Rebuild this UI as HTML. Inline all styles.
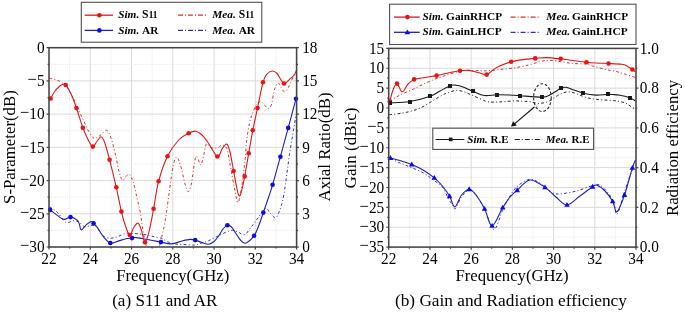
<!DOCTYPE html>
<html><head><meta charset="utf-8"><title>Figure</title>
<style>html,body{margin:0;padding:0;background:#fff;width:685px;height:314px;overflow:hidden}
svg{display:block;font-family:"Liberation Serif", serif;will-change:transform;}
text{fill:#000}</style></head>
<body>
<svg width="685" height="314" viewBox="0 0 685 314" font-family='"Liberation Serif", serif'>
<rect width="685" height="314" fill="#ffffff"/>
<line x1="69.63" y1="47.7" x2="69.63" y2="247" stroke="#e9e9e9" stroke-width="1" stroke-dasharray="1,1"/>
<line x1="90.27" y1="47.7" x2="90.27" y2="247" stroke="#dadada" stroke-width="1"/>
<line x1="110.9" y1="47.7" x2="110.9" y2="247" stroke="#e9e9e9" stroke-width="1" stroke-dasharray="1,1"/>
<line x1="131.53" y1="47.7" x2="131.53" y2="247" stroke="#dadada" stroke-width="1"/>
<line x1="152.17" y1="47.7" x2="152.17" y2="247" stroke="#e9e9e9" stroke-width="1" stroke-dasharray="1,1"/>
<line x1="172.8" y1="47.7" x2="172.8" y2="247" stroke="#dadada" stroke-width="1"/>
<line x1="193.43" y1="47.7" x2="193.43" y2="247" stroke="#e9e9e9" stroke-width="1" stroke-dasharray="1,1"/>
<line x1="214.07" y1="47.7" x2="214.07" y2="247" stroke="#dadada" stroke-width="1"/>
<line x1="234.7" y1="47.7" x2="234.7" y2="247" stroke="#e9e9e9" stroke-width="1" stroke-dasharray="1,1"/>
<line x1="255.33" y1="47.7" x2="255.33" y2="247" stroke="#dadada" stroke-width="1"/>
<line x1="275.97" y1="47.7" x2="275.97" y2="247" stroke="#e9e9e9" stroke-width="1" stroke-dasharray="1,1"/>
<line x1="49" y1="64.31" x2="296.6" y2="64.31" stroke="#e9e9e9" stroke-width="1" stroke-dasharray="1,1"/>
<line x1="49" y1="80.92" x2="296.6" y2="80.92" stroke="#dadada" stroke-width="1"/>
<line x1="49" y1="97.53" x2="296.6" y2="97.53" stroke="#e9e9e9" stroke-width="1" stroke-dasharray="1,1"/>
<line x1="49" y1="114.13" x2="296.6" y2="114.13" stroke="#dadada" stroke-width="1"/>
<line x1="49" y1="130.74" x2="296.6" y2="130.74" stroke="#e9e9e9" stroke-width="1" stroke-dasharray="1,1"/>
<line x1="49" y1="147.35" x2="296.6" y2="147.35" stroke="#dadada" stroke-width="1"/>
<line x1="49" y1="163.96" x2="296.6" y2="163.96" stroke="#e9e9e9" stroke-width="1" stroke-dasharray="1,1"/>
<line x1="49" y1="180.57" x2="296.6" y2="180.57" stroke="#dadada" stroke-width="1"/>
<line x1="49" y1="197.18" x2="296.6" y2="197.18" stroke="#e9e9e9" stroke-width="1" stroke-dasharray="1,1"/>
<line x1="49" y1="213.78" x2="296.6" y2="213.78" stroke="#dadada" stroke-width="1"/>
<line x1="49" y1="230.39" x2="296.6" y2="230.39" stroke="#e9e9e9" stroke-width="1" stroke-dasharray="1,1"/>
<line x1="409.31" y1="48.4" x2="409.31" y2="247.1" stroke="#e9e9e9" stroke-width="1" stroke-dasharray="1,1"/>
<line x1="429.92" y1="48.4" x2="429.92" y2="247.1" stroke="#dadada" stroke-width="1"/>
<line x1="450.52" y1="48.4" x2="450.52" y2="247.1" stroke="#e9e9e9" stroke-width="1" stroke-dasharray="1,1"/>
<line x1="471.13" y1="48.4" x2="471.13" y2="247.1" stroke="#dadada" stroke-width="1"/>
<line x1="491.74" y1="48.4" x2="491.74" y2="247.1" stroke="#e9e9e9" stroke-width="1" stroke-dasharray="1,1"/>
<line x1="512.35" y1="48.4" x2="512.35" y2="247.1" stroke="#dadada" stroke-width="1"/>
<line x1="532.96" y1="48.4" x2="532.96" y2="247.1" stroke="#e9e9e9" stroke-width="1" stroke-dasharray="1,1"/>
<line x1="553.57" y1="48.4" x2="553.57" y2="247.1" stroke="#dadada" stroke-width="1"/>
<line x1="574.17" y1="48.4" x2="574.17" y2="247.1" stroke="#e9e9e9" stroke-width="1" stroke-dasharray="1,1"/>
<line x1="594.78" y1="48.4" x2="594.78" y2="247.1" stroke="#dadada" stroke-width="1"/>
<line x1="615.39" y1="48.4" x2="615.39" y2="247.1" stroke="#e9e9e9" stroke-width="1" stroke-dasharray="1,1"/>
<line x1="388.7" y1="58.33" x2="636" y2="58.33" stroke="#e9e9e9" stroke-width="1" stroke-dasharray="1,1"/>
<line x1="388.7" y1="68.27" x2="636" y2="68.27" stroke="#dadada" stroke-width="1"/>
<line x1="388.7" y1="78.2" x2="636" y2="78.2" stroke="#e9e9e9" stroke-width="1" stroke-dasharray="1,1"/>
<line x1="388.7" y1="88.14" x2="636" y2="88.14" stroke="#dadada" stroke-width="1"/>
<line x1="388.7" y1="98.07" x2="636" y2="98.07" stroke="#e9e9e9" stroke-width="1" stroke-dasharray="1,1"/>
<line x1="388.7" y1="108.01" x2="636" y2="108.01" stroke="#dadada" stroke-width="1"/>
<line x1="388.7" y1="117.94" x2="636" y2="117.94" stroke="#e9e9e9" stroke-width="1" stroke-dasharray="1,1"/>
<line x1="388.7" y1="127.88" x2="636" y2="127.88" stroke="#dadada" stroke-width="1"/>
<line x1="388.7" y1="137.81" x2="636" y2="137.81" stroke="#e9e9e9" stroke-width="1" stroke-dasharray="1,1"/>
<line x1="388.7" y1="147.75" x2="636" y2="147.75" stroke="#dadada" stroke-width="1"/>
<line x1="388.7" y1="157.69" x2="636" y2="157.69" stroke="#e9e9e9" stroke-width="1" stroke-dasharray="1,1"/>
<line x1="388.7" y1="167.62" x2="636" y2="167.62" stroke="#dadada" stroke-width="1"/>
<line x1="388.7" y1="177.56" x2="636" y2="177.56" stroke="#e9e9e9" stroke-width="1" stroke-dasharray="1,1"/>
<line x1="388.7" y1="187.49" x2="636" y2="187.49" stroke="#dadada" stroke-width="1"/>
<line x1="388.7" y1="197.43" x2="636" y2="197.43" stroke="#e9e9e9" stroke-width="1" stroke-dasharray="1,1"/>
<line x1="388.7" y1="207.36" x2="636" y2="207.36" stroke="#dadada" stroke-width="1"/>
<line x1="388.7" y1="217.29" x2="636" y2="217.29" stroke="#e9e9e9" stroke-width="1" stroke-dasharray="1,1"/>
<line x1="388.7" y1="227.23" x2="636" y2="227.23" stroke="#dadada" stroke-width="1"/>
<line x1="388.7" y1="237.16" x2="636" y2="237.16" stroke="#e9e9e9" stroke-width="1" stroke-dasharray="1,1"/>
<defs><clipPath id="cl"><rect x="49" y="47.7" width="247.6" height="199.3"/></clipPath><clipPath id="cr"><rect x="388.7" y="48.4" width="247.3" height="198.7"/></clipPath></defs>
<g clip-path="url(#cl)">
<path d="M49.5,206.7 C50.87,207.7 55,210.1 57.7,212.7 C60.4,215.3 63.03,220.97 65.7,222.3 C68.37,223.63 71.43,220.7 73.7,220.7 C75.97,220.7 77.45,221.28 79.3,222.3 C81.15,223.32 82.82,226.27 84.8,226.8 C86.78,227.33 89.33,225.58 91.2,225.5 C93.07,225.42 94.13,224.7 96,226.3 C97.87,227.9 100.28,233.12 102.4,235.1 C104.52,237.08 106.32,237.88 108.7,238.2 C111.08,238.52 113.98,237.78 116.7,237 C119.42,236.22 122.5,234.1 125,233.5 C127.5,232.9 129.2,233.32 131.7,233.4 C134.2,233.48 137.4,233.73 140,234 C142.6,234.27 144.8,234.5 147.3,235 C149.8,235.5 152.6,236.43 155,237 C157.4,237.57 159.65,237.62 161.7,238.4 C163.75,239.18 165.08,240.77 167.3,241.7 C169.52,242.63 172.22,243.53 175,244 C177.78,244.47 180.68,244.33 184,244.5 C187.32,244.67 192.23,245.17 194.9,245 C197.57,244.83 197.78,244.18 200,243.5 C202.22,242.82 204.87,242.32 208.2,240.9 C211.53,239.48 216.17,236.75 220,235 C223.83,233.25 228.2,230.9 231.2,230.4 C234.2,229.9 235.77,231.3 238,232 C240.23,232.7 242.27,235.6 244.6,234.6 C246.93,233.6 249.77,228.77 252,226 C254.23,223.23 255.73,220.93 258,218 C260.27,215.07 263.6,209.23 265.6,208.4 C267.6,207.57 268.4,211.47 270,213 C271.6,214.53 273.7,217.73 275.2,217.6 C276.7,217.47 277.57,215.97 279,212.2 C280.43,208.43 282.05,204.65 283.8,195 C285.55,185.35 287.97,164.63 289.5,154.3 C291.03,143.97 291.88,139.72 293,133 C294.12,126.28 295.67,117.17 296.2,114" stroke="#3030c8" stroke-width="1.0" fill="none" stroke-linejoin="round" stroke-dasharray="2.8,2.3,1,2.3"/>
<path d="M49.3,78.3 C50.25,78.5 53.05,78.88 55,79.5 C56.95,80.12 59.17,80.83 61,82 C62.83,83.17 64.33,84.5 66,86.5 C67.67,88.5 69.33,91.08 71,94 C72.67,96.92 74.5,100.83 76,104 C77.5,107.17 78.67,110.08 80,113 C81.33,115.92 82.58,118.5 84,121.5 C85.42,124.5 86.87,128.22 88.5,131 C90.13,133.78 91.88,137.45 93.8,138.2 C95.72,138.95 97.88,136.82 100,135.5 C102.12,134.18 104.63,129.8 106.5,130.3 C108.37,130.8 109.62,134.05 111.2,138.5 C112.78,142.95 114.7,151.5 116,157 C117.3,162.5 117.93,167.67 119,171.5 C120.07,175.33 121.23,179.17 122.4,180 C123.57,180.83 124.88,177.45 126,176.5 C127.12,175.55 127.85,173.22 129.1,174.3 C130.35,175.38 132.15,178.88 133.5,183 C134.85,187.12 136.05,194 137.2,199 C138.35,204 139.47,207.92 140.4,213 C141.33,218.08 141.87,224.17 142.8,229.5 C143.73,234.83 144.8,241.08 146,245 C147.2,248.92 148.5,251.67 150,253 C151.5,254.33 153.58,253.83 155,253 C156.42,252.17 157.5,250.17 158.5,248 C159.5,245.83 159.87,244.67 161,240 C162.13,235.33 163.9,228.17 165.3,220 C166.7,211.83 168.08,200.08 169.4,191 C170.72,181.92 171.97,171.13 173.2,165.5 C174.43,159.87 175.5,156.95 176.8,157.2 C178.1,157.45 179.63,162.53 181,167 C182.37,171.47 183.8,179.9 185,184 C186.2,188.1 187.12,191.77 188.2,191.6 C189.28,191.43 190.22,188.8 191.5,183 C192.78,177.2 194.37,159.82 195.9,156.8 C197.43,153.78 199.43,165.03 200.7,164.9 C201.97,164.77 202.55,159.52 203.5,156 C204.45,152.48 205.32,145.3 206.4,143.8 C207.48,142.3 208.73,146.3 210,147 C211.27,147.7 212.67,147.9 214,148 C215.33,148.1 216.62,148.1 218,147.6 C219.38,147.1 220.83,144.87 222.3,145 C223.77,145.13 225.68,146.17 226.8,148.4 C227.92,150.63 228.22,154.38 229,158.4 C229.78,162.42 230.5,167.07 231.5,172.5 C232.5,177.93 233.93,186 235,191 C236.07,196 236.9,202.5 237.9,202.5 C238.9,202.5 240.05,196 241,191 C241.95,186 242.9,177.93 243.6,172.5 C244.3,167.07 244.67,163.9 245.2,158.4 C245.73,152.9 246.07,145.47 246.8,139.5 C247.53,133.53 248.62,127.02 249.6,122.6 C250.58,118.18 251.53,116.08 252.7,113 C253.87,109.92 255.22,105.98 256.6,104.1 C257.98,102.22 259.63,101.48 261,101.7 C262.37,101.92 263.53,104.25 264.8,105.4 C266.07,106.55 267.47,108.83 268.6,108.6 C269.73,108.37 270.75,106.67 271.6,104 C272.45,101.33 273.02,95.55 273.7,92.6 C274.38,89.65 274.95,87.92 275.7,86.3 C276.45,84.68 277.32,82.73 278.2,82.9 C279.08,83.07 280,85.82 281,87.3 C282,88.78 283.2,91.43 284.2,91.8 C285.2,92.17 286.03,90.8 287,89.5 C287.97,88.2 288.83,86.45 290,84 C291.17,81.55 292.92,76.8 294,74.8 C295.08,72.8 296.08,72.47 296.5,72" stroke="#d83030" stroke-width="1.0" fill="none" stroke-linejoin="round" stroke-dasharray="2.8,2.3,1,2.3"/>
<path d="M50.1,209.9 C51.25,210.77 54.72,213.52 57,215.1 C59.28,216.68 61.55,219.07 63.8,219.4 C66.05,219.73 68.32,217.02 70.5,217.1 C72.68,217.18 75.43,218.77 76.9,219.9 C78.37,221.03 78.57,222.22 79.3,223.9 C80.03,225.58 80.12,229.87 81.3,230 C82.48,230.13 84.75,226.12 86.4,224.7 C88.05,223.28 90,221.72 91.2,221.5 C92.4,221.28 92.53,222.33 93.6,223.4 C94.67,224.47 95.87,225.55 97.6,227.9 C99.33,230.25 101.88,234.98 104,237.5 C106.12,240.02 107.92,242.4 110.3,243 C112.68,243.6 115.85,241.77 118.3,241.1 C120.75,240.43 122.72,239.5 125,239 C127.28,238.5 130.15,238.33 132,238.1 C133.85,237.87 133.1,237.28 136.1,237.6 C139.1,237.92 145.87,239.25 150,240 C154.13,240.75 157.32,241.45 160.9,242.1 C164.48,242.75 167.98,244.08 171.5,243.9 C175.02,243.72 178.92,241.75 182,241 C185.08,240.25 187.8,239.55 190,239.4 C192.2,239.25 193.2,239.58 195.2,240.1 C197.2,240.62 199.78,241.82 202,242.5 C204.22,243.18 206.5,244.37 208.5,244.2 C210.5,244.03 212.25,242.95 214,241.5 C215.75,240.05 217.5,237.58 219,235.5 C220.5,233.42 221.6,230.72 223,229 C224.4,227.28 225.98,225.53 227.4,225.2 C228.82,224.87 230.23,225.87 231.5,227 C232.77,228.13 233.58,229.92 235,232 C236.42,234.08 238.25,237.63 240,239.5 C241.75,241.37 243.15,243.83 245.5,243.2 C247.85,242.57 251.85,238.73 254.1,235.7 C256.35,232.67 257.47,228.85 259,225 C260.53,221.15 261.72,217.18 263.3,212.6 C264.88,208.02 266.95,202.13 268.5,197.5 C270.05,192.87 270.62,191.6 272.6,184.8 C274.58,178 277.8,166.18 280.4,156.7 C283,147.22 285.6,137.55 288.2,127.9 C290.8,118.25 294.7,103.65 296,98.8" stroke="#2020b8" stroke-width="1.1" fill="none" stroke-linejoin="round"/>
<path d="M50.6,98.5 C51.33,97.25 53.52,93.05 55,91 C56.48,88.95 58.12,87.32 59.5,86.2 C60.88,85.08 62.27,84.52 63.3,84.3 C64.33,84.08 64.43,83.37 65.7,84.9 C66.97,86.43 69.12,89.65 70.9,93.5 C72.68,97.35 74.4,102.3 76.4,108 C78.4,113.7 80.97,122.45 82.9,127.7 C84.83,132.95 86.35,136.35 88,139.5 C89.65,142.65 91.33,146.27 92.8,146.6 C94.27,146.93 95.43,143.13 96.8,141.5 C98.17,139.87 99.72,136.72 101,136.8 C102.28,136.88 103.07,138.17 104.5,142 C105.93,145.83 107.63,152.25 109.6,159.8 C111.57,167.35 114.33,178.67 116.3,187.3 C118.27,195.93 119.87,205.15 121.4,211.6 C122.93,218.05 124.12,222.1 125.5,226 C126.88,229.9 128.28,234.83 129.7,235 C131.12,235.17 132.58,228.97 134,227 C135.42,225.03 136.95,222.62 138.2,223.2 C139.45,223.78 140.37,227.32 141.5,230.5 C142.63,233.68 143.75,242.1 145,242.3 C146.25,242.5 147.57,237.28 149,231.7 C150.43,226.12 152,217.2 153.6,208.8 C155.2,200.4 156.28,190.07 158.6,181.3 C160.92,172.53 164.15,163.08 167.5,156.2 C170.85,149.32 175.17,143.83 178.7,140 C182.23,136.17 185.85,134.67 188.7,133.2 C191.55,131.73 193.58,130.9 195.8,131.2 C198.02,131.5 199.97,133.12 202,135 C204.03,136.88 205.45,138.92 208,142.5 C210.55,146.08 214.92,155.5 217.3,156.5 C219.68,157.5 220.72,150.58 222.3,148.5 C223.88,146.42 225.52,143.42 226.8,144 C228.08,144.58 228.87,147.5 230,152 C231.13,156.5 232.52,165.25 233.6,171 C234.68,176.75 235.73,182.67 236.5,186.5 C237.27,190.33 237.7,192.45 238.2,194 C238.7,195.55 239.07,195.83 239.5,195.8 C239.93,195.77 240.32,195.18 240.8,193.8 C241.28,192.42 241.75,190.4 242.4,187.5 C243.05,184.6 243.65,182.1 244.7,176.4 C245.75,170.7 247.35,160.98 248.7,153.3 C250.05,145.62 251.33,137.83 252.8,130.3 C254.27,122.77 255.8,116.1 257.5,108.1 C259.2,100.1 261.42,87.98 263,82.3 C264.58,76.62 265.47,75.88 267,74 C268.53,72.12 270.53,71.08 272.2,71 C273.87,70.92 275.03,71.42 277,73.5 C278.97,75.58 281.83,82.62 284,83.5 C286.17,84.38 288.25,80.25 290,78.8 C291.75,77.35 293.37,76.43 294.5,74.8 C295.63,73.17 296.42,69.97 296.8,69" stroke="#e01818" stroke-width="1.1" fill="none" stroke-linejoin="round"/>
</g>
<circle cx="50.1" cy="209.9" r="2.3" fill="#0a0aee"/>
<circle cx="70.5" cy="217.1" r="2.3" fill="#0a0aee"/>
<circle cx="93.6" cy="223.4" r="2.3" fill="#0a0aee"/>
<circle cx="110.3" cy="243" r="2.3" fill="#0a0aee"/>
<circle cx="132" cy="238.1" r="2.3" fill="#0a0aee"/>
<circle cx="160.9" cy="242.1" r="2.3" fill="#0a0aee"/>
<circle cx="195.2" cy="240.1" r="2.3" fill="#0a0aee"/>
<circle cx="227.4" cy="225.2" r="2.3" fill="#0a0aee"/>
<circle cx="254.1" cy="235.7" r="2.3" fill="#0a0aee"/>
<circle cx="263.3" cy="212.6" r="2.3" fill="#0a0aee"/>
<circle cx="272.6" cy="184.8" r="2.3" fill="#0a0aee"/>
<circle cx="280.4" cy="156.7" r="2.3" fill="#0a0aee"/>
<circle cx="288.2" cy="127.9" r="2.3" fill="#0a0aee"/>
<circle cx="296" cy="98.8" r="2.3" fill="#0a0aee"/>
<circle cx="50.6" cy="98.5" r="2.3" fill="#ee1111"/>
<circle cx="65.7" cy="85" r="2.3" fill="#ee1111"/>
<circle cx="76.4" cy="108" r="2.3" fill="#ee1111"/>
<circle cx="82.9" cy="127.7" r="2.3" fill="#ee1111"/>
<circle cx="92.8" cy="146.6" r="2.3" fill="#ee1111"/>
<circle cx="109.6" cy="159.8" r="2.3" fill="#ee1111"/>
<circle cx="116.3" cy="187.3" r="2.3" fill="#ee1111"/>
<circle cx="121.4" cy="211.6" r="2.3" fill="#ee1111"/>
<circle cx="129.7" cy="235" r="2.3" fill="#ee1111"/>
<circle cx="145" cy="242.3" r="2.3" fill="#ee1111"/>
<circle cx="153.6" cy="208.8" r="2.3" fill="#ee1111"/>
<circle cx="158.6" cy="181.3" r="2.3" fill="#ee1111"/>
<circle cx="167.5" cy="156.2" r="2.3" fill="#ee1111"/>
<circle cx="188.7" cy="133.2" r="2.3" fill="#ee1111"/>
<circle cx="217.3" cy="156.5" r="2.3" fill="#ee1111"/>
<circle cx="233.6" cy="171" r="2.3" fill="#ee1111"/>
<circle cx="244.7" cy="176.4" r="2.3" fill="#ee1111"/>
<circle cx="248.7" cy="153.3" r="2.3" fill="#ee1111"/>
<circle cx="252.8" cy="130.3" r="2.3" fill="#ee1111"/>
<circle cx="257.5" cy="108.1" r="2.3" fill="#ee1111"/>
<circle cx="263" cy="82.3" r="2.3" fill="#ee1111"/>
<circle cx="284" cy="83.5" r="2.3" fill="#ee1111"/>
<g clip-path="url(#cr)">
<path d="M389.2,114.7 C391.68,114.38 399.07,113.85 404.1,112.8 C409.13,111.75 414.62,110.42 419.4,108.4 C424.18,106.38 428.97,102.93 432.8,100.7 C436.63,98.47 439.87,96.32 442.4,95 C444.93,93.68 445.45,93.58 448,92.8 C450.55,92.02 453.87,89.98 457.7,90.3 C461.53,90.62 466.23,92.85 471,94.7 C475.77,96.55 482.13,100.18 486.3,101.4 C490.47,102.62 492.88,101.97 496,102 C499.12,102.03 501.83,101.8 505,101.6 C508.17,101.4 512.08,100.85 515,100.8 C517.92,100.75 520.15,101.17 522.5,101.3 C524.85,101.43 526.32,101.25 529.1,101.6 C531.88,101.95 535.92,103.45 539.2,103.4 C542.48,103.35 545.75,102.58 548.8,101.3 C551.85,100.02 554.08,97.28 557.5,95.7 C560.92,94.12 564.47,91.48 569.3,91.8 C574.13,92.12 582.05,96.35 586.5,97.6 C590.95,98.85 592.95,98.9 596,99.3 C599.05,99.7 601.88,99.78 604.8,100 C607.72,100.22 610.97,100.35 613.5,100.6 C616.03,100.85 617.88,101.03 620,101.5 C622.12,101.97 624.48,102.63 626.2,103.4 C627.92,104.17 628.75,105.08 630.3,106.1 C631.85,107.12 634.63,108.93 635.5,109.5" stroke="#1a1a1a" stroke-width="0.95" fill="none" stroke-linejoin="round" stroke-dasharray="2.8,2.3,1,2.3"/>
<path d="M389.8,101.4 C391.5,100.33 396.02,97.07 400,95 C403.98,92.93 409.03,91.17 413.7,89 C418.37,86.83 423.22,84.08 428,82 C432.78,79.92 436.82,78.37 442.4,76.5 C447.98,74.63 456.07,71.78 461.5,70.8 C466.93,69.82 470.87,70.6 475,70.6 C479.13,70.6 482.13,70.98 486.3,70.8 C490.47,70.62 495.22,70 500,69.5 C504.78,69 510.15,68.58 515,67.8 C519.85,67.02 525.1,65.77 529.1,64.8 C533.1,63.83 536.18,62.73 539,62 C541.82,61.27 543.5,60.62 546,60.4 C548.5,60.18 550.97,60.38 554,60.7 C557.03,61.02 561.17,61.83 564.2,62.3 C567.23,62.77 569.33,63.25 572.2,63.5 C575.07,63.75 578.93,63.68 581.4,63.8 C583.87,63.92 584.88,63.75 587,64.2 C589.12,64.65 590.8,65.58 594.1,66.5 C597.4,67.42 603.22,68.9 606.8,69.7 C610.38,70.5 612.8,70.63 615.6,71.3 C618.4,71.97 620.28,72.67 623.6,73.7 C626.92,74.73 633.52,76.87 635.5,77.5" stroke="#d83030" stroke-width="1.0" fill="none" stroke-linejoin="round" stroke-dasharray="2.8,2.3,1,2.3"/>
<path d="M390.4,158.4 C392,159.17 396.73,161.57 400,163 C403.27,164.43 406.13,165.37 410,167 C413.87,168.63 419.37,170.67 423.2,172.8 C427.03,174.93 429.8,177.43 433,179.8 C436.2,182.17 439.8,183.8 442.4,187 C445,190.2 446.92,196 448.6,199 C450.28,202 451.35,203.42 452.5,205 C453.65,206.58 453.92,210 455.5,208.5 C457.08,207 459.58,199.08 462,196 C464.42,192.92 467.5,190 470,190 C472.5,190 474.5,192.67 477,196 C479.5,199.33 482.17,204.43 485,210 C487.83,215.57 491,229.57 494,229.4 C497,229.23 500.33,214.57 503,209 C505.67,203.43 507.57,199.82 510,196 C512.43,192.18 514.42,188.87 517.6,186.1 C520.78,183.33 525.58,180.03 529.1,179.4 C532.62,178.77 535.72,180.7 538.7,182.3 C541.68,183.9 544.45,187.15 547,189 C549.55,190.85 551.57,192.6 554,193.4 C556.43,194.2 557.77,194.22 561.6,193.8 C565.43,193.38 571.9,192.25 577,190.9 C582.1,189.55 588.38,186.65 592.2,185.7 C596.02,184.75 597.03,183.7 599.9,185.2 C602.77,186.7 607.02,191.4 609.4,194.7 C611.78,198 612.88,201.78 614.2,205 C615.52,208.22 615.55,216.35 617.3,214 C619.05,211.65 621.87,199.22 624.7,190.9 C627.53,182.58 632.7,168.57 634.3,164.1" stroke="#3030c8" stroke-width="1.0" fill="none" stroke-linejoin="round" stroke-dasharray="2.8,2.3,1,2.3"/>
<path d="M389.8,103 C393.15,102.75 403.15,102.63 409.9,101.5 C416.65,100.37 425.28,97.95 430.3,96.2 C435.32,94.45 436.65,92.75 440,91 C443.35,89.25 447.73,86.67 450.4,85.7 C453.07,84.73 453.9,84.98 456,85.2 C458.1,85.42 460.17,85.98 463,87 C465.83,88.02 469.43,89.88 473,91.3 C476.57,92.72 480.42,94.93 484.4,95.5 C488.38,96.07 492.63,94.78 496.9,94.7 C501.17,94.62 506.18,94.83 510,95 C513.82,95.17 514.4,95.35 519.8,95.7 C525.2,96.05 537.33,97.27 542.4,97.1 C547.47,96.93 547.1,96.17 550.2,94.7 C553.3,93.23 558.37,89.53 561,88.3 C563.63,87.07 563.83,87.02 566,87.3 C568.17,87.58 571.13,89.02 574,90 C576.87,90.98 579.53,92.35 583.2,93.2 C586.87,94.05 591.95,94.9 596,95.1 C600.05,95.3 604.5,94.48 607.5,94.4 C610.5,94.32 611.92,94.47 614,94.6 C616.08,94.73 618.17,94.92 620,95.2 C621.83,95.48 623.37,95.87 625,96.3 C626.63,96.73 628.05,97.05 629.8,97.8 C631.55,98.55 634.55,100.3 635.5,100.8" stroke="#1a1a1a" stroke-width="1.1" fill="none" stroke-linejoin="round"/>
<path d="M389.8,101.4 C390.33,99.5 391.8,92.97 393,90 C394.2,87.03 395.47,83.3 397,83.6 C398.53,83.9 400.37,91.73 402.2,91.8 C404.03,91.87 406.02,86.07 408,84 C409.98,81.93 411.27,80.48 414.1,79.4 C416.93,78.32 421.25,78.13 425,77.5 C428.75,76.87 432.77,76.35 436.6,75.6 C440.43,74.85 444.1,73.8 448,73 C451.9,72.2 456.5,71.23 460,70.8 C463.5,70.37 466,70.12 469,70.4 C472,70.68 475.05,71.8 478,72.5 C480.95,73.2 484.2,75.02 486.7,74.6 C489.2,74.18 490.83,71.43 493,70 C495.17,68.57 496.67,67.37 499.7,66 C502.73,64.63 507.32,62.87 511.2,61.8 C515.08,60.73 519,60.17 523,59.6 C527,59.03 531.32,58.73 535.2,58.4 C539.08,58.07 542.05,57.53 546.3,57.6 C550.55,57.67 556.25,58.32 560.7,58.8 C565.15,59.28 568.7,59.93 573,60.5 C577.3,61.07 582.5,61.78 586.5,62.2 C590.5,62.62 593.33,62.78 597,63 C600.67,63.22 604.67,63.32 608.5,63.5 C612.33,63.68 617.25,63.85 620,64.1 C622.75,64.35 622.93,64.1 625,65 C627.07,65.9 630.65,68.33 632.4,69.5 C634.15,70.67 634.98,71.58 635.5,72" stroke="#e01818" stroke-width="1.1" fill="none" stroke-linejoin="round"/>
<path d="M390.4,158 C392,158.42 396.43,159.42 400,160.5 C403.57,161.58 407.97,162.92 411.8,164.5 C415.63,166.08 419.25,167.77 423,170 C426.75,172.23 431.13,175.32 434.3,177.9 C437.47,180.48 439.45,182.45 442,185.5 C444.55,188.55 447.47,192.63 449.6,196.2 C451.73,199.77 452.82,207.1 454.8,206.9 C456.78,206.7 459.1,197.95 461.5,195 C463.9,192.05 466.78,189.2 469.2,189.2 C471.62,189.2 473.43,191.73 476,195 C478.57,198.27 481.92,203.67 484.6,208.8 C487.28,213.93 489.08,226 492.1,225.8 C495.12,225.6 499.63,212.48 502.7,207.6 C505.77,202.72 508.08,199.4 510.5,196.5 C512.92,193.6 513.95,192.95 517.2,190.2 C520.45,187.45 525.37,180.47 530,180 C534.63,179.53 540.67,184.57 545,187.4 C549.33,190.23 552.33,194.08 556,197 C559.67,199.92 563,205.07 567,204.9 C571,204.73 575.73,199.03 580,196 C584.27,192.97 589.77,188.5 592.6,186.7 C595.43,184.9 594.93,184.48 597,185.2 C599.07,185.92 602.38,188.3 605,191 C607.62,193.7 610.7,197.93 612.7,201.4 C614.7,204.87 615.03,212.87 617,211.8 C618.97,210.73 621.93,202.32 624.5,195 C627.07,187.68 630.57,173.73 632.4,167.9 C634.23,162.07 634.98,161.32 635.5,160" stroke="#2020b8" stroke-width="1.1" fill="none" stroke-linejoin="round"/>
</g>
<circle cx="389.8" cy="101.4" r="2.3" fill="#ee1111"/>
<circle cx="397" cy="83.6" r="2.3" fill="#ee1111"/>
<circle cx="414.1" cy="79.4" r="2.3" fill="#ee1111"/>
<circle cx="436.6" cy="75.6" r="2.3" fill="#ee1111"/>
<circle cx="460" cy="70.8" r="2.3" fill="#ee1111"/>
<circle cx="486.7" cy="74.6" r="2.3" fill="#ee1111"/>
<circle cx="511.2" cy="61.8" r="2.3" fill="#ee1111"/>
<circle cx="535.2" cy="58.4" r="2.3" fill="#ee1111"/>
<circle cx="560.7" cy="58.8" r="2.3" fill="#ee1111"/>
<circle cx="586.5" cy="62.2" r="2.3" fill="#ee1111"/>
<circle cx="608.5" cy="63.5" r="2.3" fill="#ee1111"/>
<circle cx="632.4" cy="69.5" r="2.3" fill="#ee1111"/>
<path d="M390.4,155.08 L387.6,159.95 L393.2,159.95 Z" fill="#0a0aee"/>
<path d="M411.8,161.58 L409,166.45 L414.6,166.45 Z" fill="#0a0aee"/>
<path d="M434.3,174.98 L431.5,179.85 L437.1,179.85 Z" fill="#0a0aee"/>
<path d="M449.6,193.28 L446.8,198.15 L452.4,198.15 Z" fill="#0a0aee"/>
<path d="M469.2,186.28 L466.4,191.15 L472,191.15 Z" fill="#0a0aee"/>
<path d="M484.6,205.88 L481.8,210.75 L487.4,210.75 Z" fill="#0a0aee"/>
<path d="M492.1,222.88 L489.3,227.75 L494.9,227.75 Z" fill="#0a0aee"/>
<path d="M502.7,204.68 L499.9,209.55 L505.5,209.55 Z" fill="#0a0aee"/>
<path d="M517.2,187.28 L514.4,192.15 L520,192.15 Z" fill="#0a0aee"/>
<path d="M545,184.48 L542.2,189.35 L547.8,189.35 Z" fill="#0a0aee"/>
<path d="M567,201.98 L564.2,206.85 L569.8,206.85 Z" fill="#0a0aee"/>
<path d="M592.6,183.78 L589.8,188.65 L595.4,188.65 Z" fill="#0a0aee"/>
<path d="M612.7,198.48 L609.9,203.35 L615.5,203.35 Z" fill="#0a0aee"/>
<path d="M624.5,192.08 L621.7,196.95 L627.3,196.95 Z" fill="#0a0aee"/>
<path d="M632.4,164.98 L629.6,169.85 L635.2,169.85 Z" fill="#0a0aee"/>
<rect x="388" y="101" width="4" height="4" fill="#1a1a1a"/>
<rect x="408" y="100" width="4" height="4" fill="#1a1a1a"/>
<rect x="428" y="94" width="4" height="4" fill="#1a1a1a"/>
<rect x="448" y="84" width="4" height="4" fill="#1a1a1a"/>
<rect x="471" y="89" width="4" height="4" fill="#1a1a1a"/>
<rect x="495" y="93" width="4" height="4" fill="#1a1a1a"/>
<rect x="518" y="94" width="4" height="4" fill="#1a1a1a"/>
<rect x="540" y="95" width="4" height="4" fill="#1a1a1a"/>
<rect x="559" y="86" width="4" height="4" fill="#1a1a1a"/>
<rect x="581" y="91" width="4" height="4" fill="#1a1a1a"/>
<rect x="606" y="92" width="4" height="4" fill="#1a1a1a"/>
<rect x="628" y="96" width="4" height="4" fill="#1a1a1a"/>
<ellipse cx="542.4" cy="97.6" rx="8.8" ry="13.9" fill="none" stroke="#2a2a2a" stroke-width="1.1" stroke-dasharray="2.8,1.9"/>
<line x1="534.4" y1="107" x2="514.5" y2="123.8" stroke="#111" stroke-width="1.1"/>
<path d="M511,126.6 L513.1,121.2 L516.9,125.5 Z" fill="#111"/>
<rect x="49" y="47.7" width="247.6" height="199.3" fill="none" stroke="#444444" stroke-width="1.55"/>
<path d="M49,247L49,249.6 M69.63,247L69.63,248.6 M90.27,247L90.27,249.6 M110.9,247L110.9,248.6 M131.53,247L131.53,249.6 M152.17,247L152.17,248.6 M172.8,247L172.8,249.6 M193.43,247L193.43,248.6 M214.07,247L214.07,249.6 M234.7,247L234.7,248.6 M255.33,247L255.33,249.6 M275.97,247L275.97,248.6 M296.6,247L296.6,249.6 M46.6,47.7L49,47.7 M47.6,64.31L49,64.31 M46.6,80.92L49,80.92 M47.6,97.53L49,97.53 M46.6,114.13L49,114.13 M47.6,130.74L49,130.74 M46.6,147.35L49,147.35 M47.6,163.96L49,163.96 M46.6,180.57L49,180.57 M47.6,197.18L49,197.18 M46.6,213.78L49,213.78 M47.6,230.39L49,230.39 M46.6,247L49,247 M296.6,47.7L299,47.7 M296.6,64.31L298,64.31 M296.6,80.92L299,80.92 M296.6,97.53L298,97.53 M296.6,114.13L299,114.13 M296.6,130.74L298,130.74 M296.6,147.35L299,147.35 M296.6,163.96L298,163.96 M296.6,180.57L299,180.57 M296.6,197.18L298,197.18 M296.6,213.78L299,213.78 M296.6,230.39L298,230.39 M296.6,247L299,247" stroke="#444444" stroke-width="1.2" fill="none"/>
<rect x="388.7" y="48.4" width="247.3" height="198.7" fill="none" stroke="#444444" stroke-width="1.55"/>
<path d="M388.7,247.1L388.7,249.7 M409.31,247.1L409.31,248.7 M429.92,247.1L429.92,249.7 M450.52,247.1L450.52,248.7 M471.13,247.1L471.13,249.7 M491.74,247.1L491.74,248.7 M512.35,247.1L512.35,249.7 M532.96,247.1L532.96,248.7 M553.57,247.1L553.57,249.7 M574.17,247.1L574.17,248.7 M594.78,247.1L594.78,249.7 M615.39,247.1L615.39,248.7 M636,247.1L636,249.7 M386.3,48.4L388.7,48.4 M387.3,58.33L388.7,58.33 M386.3,68.27L388.7,68.27 M387.3,78.2L388.7,78.2 M386.3,88.14L388.7,88.14 M387.3,98.07L388.7,98.07 M386.3,108.01L388.7,108.01 M387.3,117.94L388.7,117.94 M386.3,127.88L388.7,127.88 M387.3,137.81L388.7,137.81 M386.3,147.75L388.7,147.75 M387.3,157.69L388.7,157.69 M386.3,167.62L388.7,167.62 M387.3,177.56L388.7,177.56 M386.3,187.49L388.7,187.49 M387.3,197.43L388.7,197.43 M386.3,207.36L388.7,207.36 M387.3,217.29L388.7,217.29 M386.3,227.23L388.7,227.23 M387.3,237.16L388.7,237.16 M386.3,247.1L388.7,247.1 M636,48.4L638.4,48.4 M636,68.27L637.4,68.27 M636,88.14L638.4,88.14 M636,108.01L637.4,108.01 M636,127.88L638.4,127.88 M636,147.75L637.4,147.75 M636,167.62L638.4,167.62 M636,187.49L637.4,187.49 M636,207.36L638.4,207.36 M636,227.23L637.4,227.23 M636,247.1L638.4,247.1" stroke="#444444" stroke-width="1.2" fill="none"/>
<text transform="translate(49,263.6) scale(1,1.07)" font-size="15.3" text-anchor="middle">22</text>
<text transform="translate(388.7,263.6) scale(1,1.07)" font-size="15.3" text-anchor="middle">22</text>
<text transform="translate(90.27,263.6) scale(1,1.07)" font-size="15.3" text-anchor="middle">24</text>
<text transform="translate(429.92,263.6) scale(1,1.07)" font-size="15.3" text-anchor="middle">24</text>
<text transform="translate(131.53,263.6) scale(1,1.07)" font-size="15.3" text-anchor="middle">26</text>
<text transform="translate(471.13,263.6) scale(1,1.07)" font-size="15.3" text-anchor="middle">26</text>
<text transform="translate(172.8,263.6) scale(1,1.07)" font-size="15.3" text-anchor="middle">28</text>
<text transform="translate(512.35,263.6) scale(1,1.07)" font-size="15.3" text-anchor="middle">28</text>
<text transform="translate(214.07,263.6) scale(1,1.07)" font-size="15.3" text-anchor="middle">30</text>
<text transform="translate(553.57,263.6) scale(1,1.07)" font-size="15.3" text-anchor="middle">30</text>
<text transform="translate(255.33,263.6) scale(1,1.07)" font-size="15.3" text-anchor="middle">32</text>
<text transform="translate(594.78,263.6) scale(1,1.07)" font-size="15.3" text-anchor="middle">32</text>
<text transform="translate(296.6,263.6) scale(1,1.07)" font-size="15.3" text-anchor="middle">34</text>
<text transform="translate(636,263.6) scale(1,1.07)" font-size="15.3" text-anchor="middle">34</text>
<text transform="translate(44.6,52.9) scale(1,1.07)" font-size="15.3" text-anchor="end">0</text>
<text transform="translate(44.6,86.12) scale(1,1.07)" font-size="15.3" text-anchor="end"><tspan dy="-0.8" font-size="16.6">&#8722;</tspan><tspan dy="0.8">5</tspan></text>
<text transform="translate(44.6,119.33) scale(1,1.07)" font-size="15.3" text-anchor="end"><tspan dy="-0.8" font-size="16.6">&#8722;</tspan><tspan dy="0.8">10</tspan></text>
<text transform="translate(44.6,152.55) scale(1,1.07)" font-size="15.3" text-anchor="end"><tspan dy="-0.8" font-size="16.6">&#8722;</tspan><tspan dy="0.8">15</tspan></text>
<text transform="translate(44.6,185.77) scale(1,1.07)" font-size="15.3" text-anchor="end"><tspan dy="-0.8" font-size="16.6">&#8722;</tspan><tspan dy="0.8">20</tspan></text>
<text transform="translate(44.6,218.98) scale(1,1.07)" font-size="15.3" text-anchor="end"><tspan dy="-0.8" font-size="16.6">&#8722;</tspan><tspan dy="0.8">25</tspan></text>
<text transform="translate(44.6,252.2) scale(1,1.07)" font-size="15.3" text-anchor="end"><tspan dy="-0.8" font-size="16.6">&#8722;</tspan><tspan dy="0.8">30</tspan></text>
<text transform="translate(302.2,52.9) scale(1,1.07)" font-size="15.3" text-anchor="start">18</text>
<text transform="translate(302.2,86.12) scale(1,1.07)" font-size="15.3" text-anchor="start">15</text>
<text transform="translate(302.2,119.33) scale(1,1.07)" font-size="15.3" text-anchor="start">12</text>
<text transform="translate(302.2,152.55) scale(1,1.07)" font-size="15.3" text-anchor="start">9</text>
<text transform="translate(302.2,185.77) scale(1,1.07)" font-size="15.3" text-anchor="start">6</text>
<text transform="translate(302.2,218.98) scale(1,1.07)" font-size="15.3" text-anchor="start">3</text>
<text transform="translate(302.2,252.2) scale(1,1.07)" font-size="15.3" text-anchor="start">0</text>
<text transform="translate(384.2,53.6) scale(1,1.07)" font-size="15.3" text-anchor="end">15</text>
<text transform="translate(384.2,73.47) scale(1,1.07)" font-size="15.3" text-anchor="end">10</text>
<text transform="translate(384.2,93.34) scale(1,1.07)" font-size="15.3" text-anchor="end">5</text>
<text transform="translate(384.2,113.21) scale(1,1.07)" font-size="15.3" text-anchor="end">0</text>
<text transform="translate(384.2,133.08) scale(1,1.07)" font-size="15.3" text-anchor="end"><tspan dy="-0.8" font-size="16.6">&#8722;</tspan><tspan dy="0.8">5</tspan></text>
<text transform="translate(384.2,152.95) scale(1,1.07)" font-size="15.3" text-anchor="end"><tspan dy="-0.8" font-size="16.6">&#8722;</tspan><tspan dy="0.8">10</tspan></text>
<text transform="translate(384.2,172.82) scale(1,1.07)" font-size="15.3" text-anchor="end"><tspan dy="-0.8" font-size="16.6">&#8722;</tspan><tspan dy="0.8">15</tspan></text>
<text transform="translate(384.2,192.69) scale(1,1.07)" font-size="15.3" text-anchor="end"><tspan dy="-0.8" font-size="16.6">&#8722;</tspan><tspan dy="0.8">20</tspan></text>
<text transform="translate(384.2,212.56) scale(1,1.07)" font-size="15.3" text-anchor="end"><tspan dy="-0.8" font-size="16.6">&#8722;</tspan><tspan dy="0.8">25</tspan></text>
<text transform="translate(384.2,232.43) scale(1,1.07)" font-size="15.3" text-anchor="end"><tspan dy="-0.8" font-size="16.6">&#8722;</tspan><tspan dy="0.8">30</tspan></text>
<text transform="translate(384.2,252.3) scale(1,1.07)" font-size="15.3" text-anchor="end"><tspan dy="-0.8" font-size="16.6">&#8722;</tspan><tspan dy="0.8">35</tspan></text>
<text transform="translate(639.7,53.6) scale(1,1.07)" font-size="15.3" text-anchor="start">1.0</text>
<text transform="translate(639.7,93.34) scale(1,1.07)" font-size="15.3" text-anchor="start">0.8</text>
<text transform="translate(639.7,133.08) scale(1,1.07)" font-size="15.3" text-anchor="start">0.6</text>
<text transform="translate(639.7,172.82) scale(1,1.07)" font-size="15.3" text-anchor="start">0.4</text>
<text transform="translate(639.7,212.56) scale(1,1.07)" font-size="15.3" text-anchor="start">0.2</text>
<text transform="translate(639.7,252.3) scale(1,1.07)" font-size="15.3" text-anchor="start">0.0</text>
<text x="172.7" y="280.6" font-size="16.7" text-anchor="middle" font-weight="normal" font-style="normal">Frequency(GHz)</text>
<text x="512" y="280.6" font-size="16.7" text-anchor="middle" font-weight="normal" font-style="normal">Frequency(GHz)</text>
<text transform="translate(15.2,147.1) rotate(-90)" font-size="16.8" text-anchor="middle">S-Parameter(dB)</text>
<text transform="translate(330,146.95) rotate(-90)" font-size="16.85" text-anchor="middle">Axial Ratio(dB)</text>
<text transform="translate(355.8,147.95) rotate(-90)" font-size="17.05" text-anchor="middle">Gain (dBic)</text>
<text transform="translate(678,147.95) rotate(-90)" font-size="16.8" text-anchor="middle">Radiation efficiency</text>
<text x="164.8" y="305.6" font-size="17.1" text-anchor="middle" font-weight="normal" font-style="normal">(a) S11 and AR</text>
<text x="510.9" y="305.8" font-size="17.3" text-anchor="middle" font-weight="normal" font-style="normal">(b) Gain and Radiation efficiency</text>
<rect x="81.3" y="2.3" width="180.5" height="39.9" fill="#fff" stroke="#505050" stroke-width="1.1"/>
<line x1="84.7" y1="15.2" x2="113" y2="15.2" stroke="#e01818" stroke-width="1.3"/>
<circle cx="99.4" cy="15.2" r="2.3" fill="#ee1111"/>
<line x1="84.7" y1="30.4" x2="113" y2="30.4" stroke="#2020b8" stroke-width="1.3"/>
<circle cx="99.4" cy="30.4" r="2.3" fill="#0a0aee"/>
<line x1="178" y1="15.2" x2="206" y2="15.2" stroke="#d83030" stroke-width="1.2" stroke-dasharray="5,2,1,2"/>
<line x1="178" y1="30.4" x2="206" y2="30.4" stroke="#3030c8" stroke-width="1.2" stroke-dasharray="5,2,1,2"/>
<text x="118.2" y="18.3" font-size="11.3" text-anchor="start" font-weight="normal" font-style="normal"><tspan font-weight="bold" font-style="italic">Sim.</tspan> <tspan font-weight="bold" font-size="11.6">S</tspan><tspan font-weight="bold" font-size="9.3" dx="0.2">11</tspan></text>
<text x="118.2" y="33.5" font-size="11.3" text-anchor="start" font-weight="normal" font-style="normal"><tspan font-weight="bold" font-style="italic">Sim.</tspan> <tspan font-weight="bold">AR</tspan></text>
<text x="212.3" y="18.3" font-size="11.3" text-anchor="start" font-weight="normal" font-style="normal"><tspan font-weight="bold" font-style="italic">Mea.</tspan> <tspan font-weight="bold" font-size="11.6">S</tspan><tspan font-weight="bold" font-size="9.3" dx="0.2">11</tspan></text>
<text x="212.3" y="33.5" font-size="11.3" text-anchor="start" font-weight="normal" font-style="normal"><tspan font-weight="bold" font-style="italic">Mea.</tspan> <tspan font-weight="bold">AR</tspan></text>
<rect x="389.6" y="4.2" width="246.4" height="40.3" fill="#fff" stroke="#505050" stroke-width="1.1"/>
<line x1="394" y1="17.1" x2="419.7" y2="17.1" stroke="#e01818" stroke-width="1.3"/>
<circle cx="407.4" cy="17.1" r="2.3" fill="#ee1111"/>
<line x1="394" y1="32.3" x2="419.7" y2="32.3" stroke="#2020b8" stroke-width="1.3"/>
<path d="M407.4,29.38 L404.6,34.25 L410.2,34.25 Z" fill="#0a0aee"/>
<line x1="510.6" y1="17.1" x2="538.9" y2="17.1" stroke="#d83030" stroke-width="1.2" stroke-dasharray="5,2,1,2"/>
<line x1="510.6" y1="32.3" x2="538.9" y2="32.3" stroke="#3030c8" stroke-width="1.2" stroke-dasharray="5,2,1,2"/>
<text x="422.6" y="19.9" font-size="11.2" text-anchor="start" font-weight="bold" font-style="italic">Sim.</text>
<text x="422.6" y="35.1" font-size="11.2" text-anchor="start" font-weight="bold" font-style="italic">Sim.</text>
<text x="546.3" y="19.9" font-size="11.4" text-anchor="start" font-weight="bold" font-style="italic">Mea.</text>
<text x="546.3" y="35.1" font-size="11.4" text-anchor="start" font-weight="bold" font-style="italic">Mea.</text>
<text x="446.1" y="19.9" font-size="11.35" text-anchor="start" font-weight="bold" font-style="normal">GainRHCP</text>
<text x="446.1" y="35.1" font-size="11.35" text-anchor="start" font-weight="bold" font-style="normal">GainLHCP</text>
<text x="572.1" y="19.9" font-size="11.35" text-anchor="start" font-weight="bold" font-style="normal">GainRHCP</text>
<text x="572.1" y="35.1" font-size="11.35" text-anchor="start" font-weight="bold" font-style="normal">GainLHCP</text>
<rect x="432.8" y="128.2" width="160.8" height="21.2" fill="#fff" stroke="#505050" stroke-width="1.1"/>
<line x1="435.5" y1="139.5" x2="464.4" y2="139.5" stroke="#1a1a1a" stroke-width="1"/>
<rect x="448.9" y="137.6" width="3.6" height="3.6" fill="#1a1a1a"/>
<line x1="514.8" y1="139.5" x2="542.2" y2="139.5" stroke="#1a1a1a" stroke-width="1" stroke-dasharray="5,2,1,2"/>
<text x="467.3" y="142.6" font-size="11" text-anchor="start" font-weight="normal" font-style="normal"><tspan font-weight="bold" font-style="italic">Sim.</tspan> <tspan font-weight="bold">R.E</tspan></text>
<text x="545.8" y="142.6" font-size="11" text-anchor="start" font-weight="normal" font-style="normal"><tspan font-weight="bold" font-style="italic">Mea.</tspan> <tspan font-weight="bold">R.E</tspan></text>
</svg>
</body></html>
